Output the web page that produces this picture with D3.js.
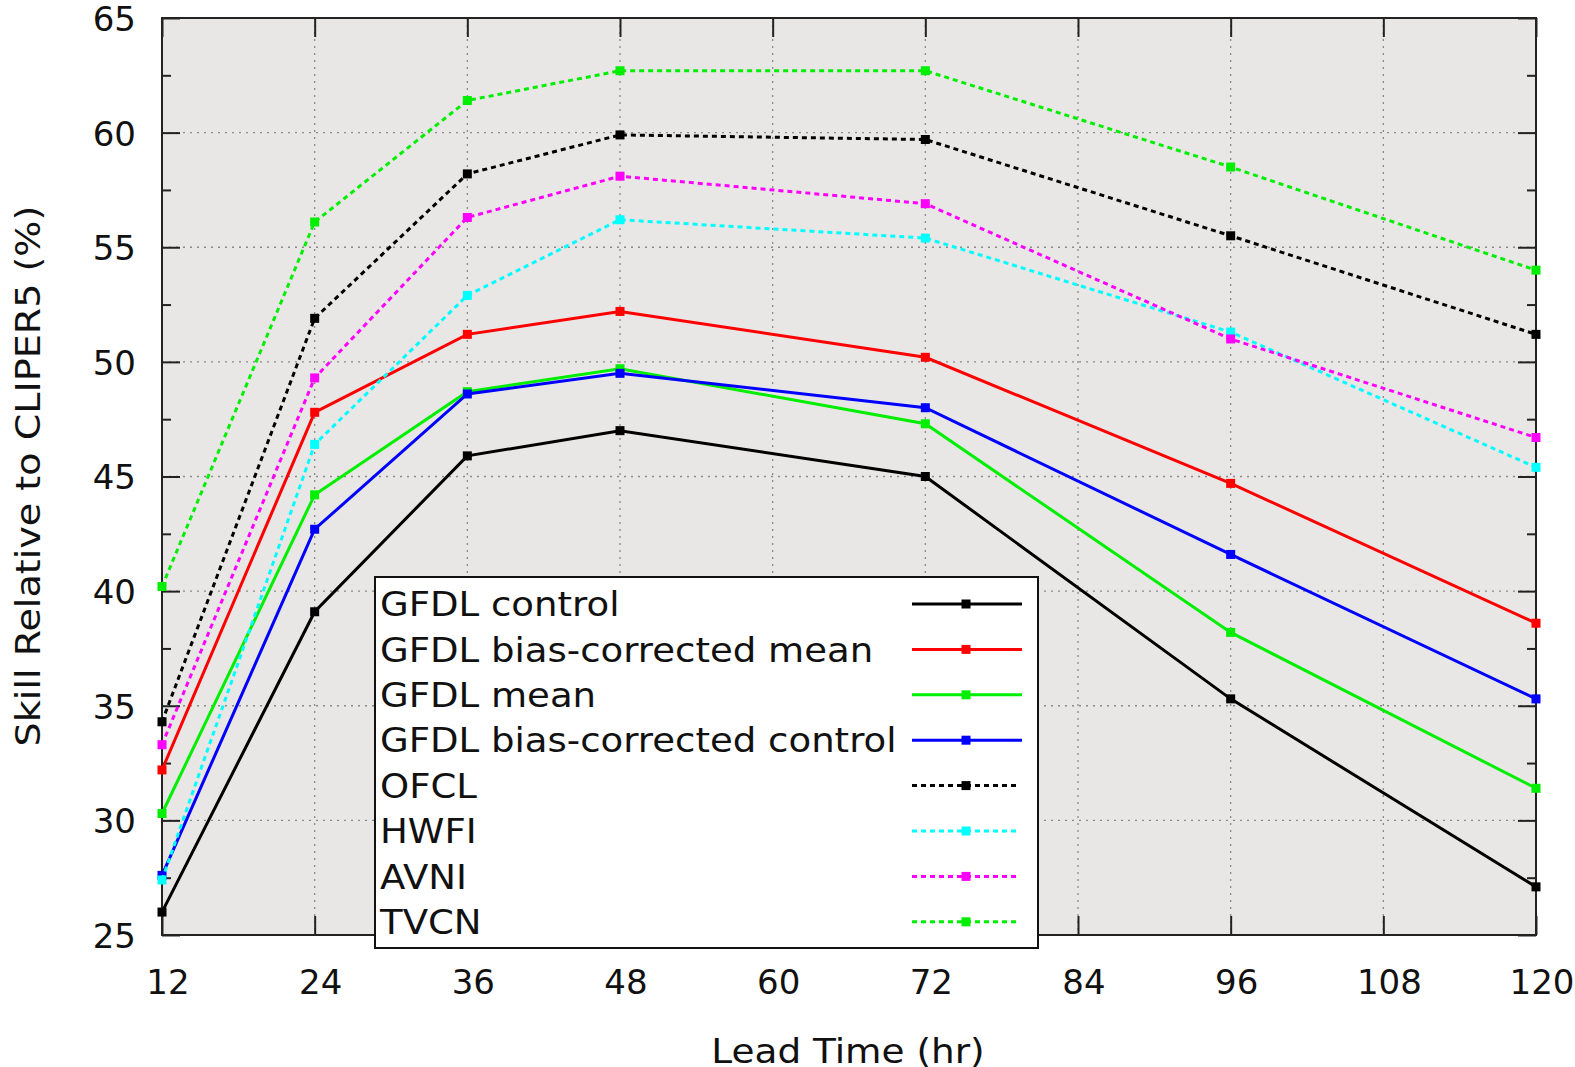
<!DOCTYPE html>
<html><head><meta charset="utf-8">
<script src="https://cdn.jsdelivr.net/npm/d3@7"></script>
<style>body{margin:0;background:#fff}svg{display:block}text{font-family:"DejaVu Sans",sans-serif;fill:#111}</style>
</head><body><div id="c"></div>
<script>
const leadTimes = [12, 24, 36, 48, 72, 96, 120];
const seriesNames = ["GFDL control","GFDL bias-corrected mean","GFDL mean","GFDL bias-corrected control","OFCL","HWFI","AVNI","TVCN"];
const seriesColors = ["#000000","#ff0000","#00ee00","#0000ff","#000000","#00ffff","#ff00ff","#00ee00"];
const seriesDotted = [false,false,false,false,true,true,true,true];
const gfdlControl = [26.0, 39.1, 45.9, 47.0, 45.0, 35.3, 27.1];
const gfdlBcMean = [32.2, 47.8, 51.2, 52.2, 50.2, 44.7, 38.6];
const gfdlMean = [30.3, 44.2, 48.7, 49.7, 47.3, 38.2, 31.4];
const gfdlBcControl = [27.6, 42.7, 48.6, 49.5, 48.0, 41.6, 35.3];
const ofcl = [34.3, 51.9, 58.2, 59.9, 59.7, 55.5, 51.2];
const hwfi = [27.4, 46.4, 52.9, 56.2, 55.4, 51.3, 45.4];
const avni = [33.3, 49.3, 56.3, 58.1, 56.9, 51.0, 46.7];
const tvcn = [40.2, 56.1, 61.4, 62.7, 62.7, 58.5, 54.0];
const allValues = [gfdlControl, gfdlBcMean, gfdlMean, gfdlBcControl, ofcl, hwfi, avni, tvcn];
const xTicks = [12,24,36,48,60,72,84,96,108,120];
const yTicks = [25,30,35,40,45,50,55,60,65];
const yMinorTicks = [27.5,32.5,37.5,42.5,47.5,52.5,57.5,62.5];
const xLabel = "Lead Time (hr)";
const yLabel = "Skill Relative to CLIPER5 (%)";

const W = 1575, H = 1067;
const L = 162, R = 1536, T = 18, B = 935;
const FS = 34;
const svg = d3.select("#c").append("svg").attr("width", W).attr("height", H);
const x = d3.scaleLinear().domain([12,120]).range([L,R]);
const y = d3.scaleLinear().domain([25,65]).range([B,T]);

function stretch(sel, f){ sel.each(function(){ const l=this.getComputedTextLength(); d3.select(this).attr("textLength",l*f).attr("lengthAdjust","spacingAndGlyphs"); }); }

svg.append("rect").attr("x",L).attr("y",T).attr("width",R-L).attr("height",B-T).attr("fill","#e8e7e6");

// grid
const g = svg.append("g");
g.selectAll(".gx").data(xTicks.slice(1,-1)).join("line")
  .attr("x1",d=>x(d)).attr("x2",d=>x(d)).attr("y1",T).attr("y2",B)
  .attr("stroke","#8a8a8a").attr("stroke-width",1.3).attr("stroke-dasharray","2,5");
g.selectAll(".gy").data(yTicks.slice(1,-1)).join("line")
  .attr("y1",d=>y(d)).attr("y2",d=>y(d)).attr("x1",L).attr("x2",R)
  .attr("stroke","#8a8a8a").attr("stroke-width",1.3).attr("stroke-dasharray","2,5");

// axes via d3 axis
const axB = d3.axisBottom(x).tickValues(xTicks).tickSize(-19).tickFormat("");
const axT = d3.axisTop(x).tickValues(xTicks).tickSize(-19).tickFormat("");
const axLmaj = d3.axisLeft(y).tickValues(yTicks).tickSize(-18).tickFormat("");
const axRmaj = d3.axisRight(y).tickValues(yTicks).tickSize(-18).tickFormat("");
const axLmin = d3.axisLeft(y).tickValues(yMinorTicks).tickSize(-9).tickFormat("");
const axRmin = d3.axisRight(y).tickValues(yMinorTicks).tickSize(-9).tickFormat("");
[[axB,`translate(0,${B})`],[axT,`translate(0,${T})`],[axLmaj,`translate(${L},0)`],[axRmaj,`translate(${R},0)`],[axLmin,`translate(${L},0)`],[axRmin,`translate(${R},0)`]].forEach(([a,t])=>{
  const gg = svg.append("g").attr("transform",t).call(a);
  gg.select(".domain").remove();
  gg.selectAll("line").attr("stroke","#222").attr("stroke-width",2);
});
svg.append("rect").attr("x",L).attr("y",T).attr("width",R-L).attr("height",B-T).attr("fill","none").attr("stroke","#222").attr("stroke-width",2);

// tick labels
svg.selectAll(".xl").data(xTicks).join("text").attr("x",d=>x(d)+6).attr("y",B+59)
  .attr("text-anchor","middle").attr("font-size",FS).text(d=>d);
svg.selectAll(".yl").data(yTicks).join("text").attr("x",L-26).attr("y",d=>y(d)).attr("dy","0.38em")
  .attr("text-anchor","end").attr("font-size",FS).text(d=>d);

svg.append("text").attr("x",848).attr("y",1063).attr("text-anchor","middle").attr("font-size",FS).text(xLabel).call(stretch,1.10);
svg.append("text").attr("transform","translate(40,476) rotate(-90)").attr("text-anchor","middle").attr("font-size",FS).text(yLabel).call(stretch,1.12);

// series
const line = d3.line().x((d,i)=>x(leadTimes[i])).y(d=>y(d));
allValues.forEach((vals,k)=>{
  const s = svg.append("g");
  s.append("path").attr("d",line(vals)).attr("fill","none").attr("stroke",seriesColors[k]).attr("stroke-width",3)
    .attr("stroke-dasharray",seriesDotted[k]?"5,4":null);
  s.selectAll("rect").data(vals).join("rect").attr("x",(d,i)=>x(leadTimes[i])-4.5).attr("y",d=>y(d)-4.5)
    .attr("width",9).attr("height",9).attr("fill",seriesColors[k]);
});

// legend
const LX0 = 375, LY0 = 577, LX1 = 1038, LY1 = 948;
svg.append("rect").attr("x",LX0).attr("y",LY0).attr("width",LX1-LX0).attr("height",LY1-LY0).attr("fill","#fff").attr("stroke","#111").attr("stroke-width",2);
seriesNames.forEach((nm,k)=>{
  const cy = 604 + k*45.4;
  svg.append("text").attr("x",380).attr("y",cy).attr("dy","0.36em").attr("font-size",FS).text(nm).call(stretch,1.09);
  svg.append("line").attr("x1",912).attr("x2",seriesDotted[k]?1017:1022).attr("y1",cy).attr("y2",cy)
    .attr("stroke",seriesColors[k]).attr("stroke-width",3).attr("stroke-dasharray",seriesDotted[k]?"5,4":null);
  svg.append("rect").attr("x",966-4.5).attr("y",cy-4.5).attr("width",9).attr("height",9).attr("fill",seriesColors[k]);
});
</script></body></html>
